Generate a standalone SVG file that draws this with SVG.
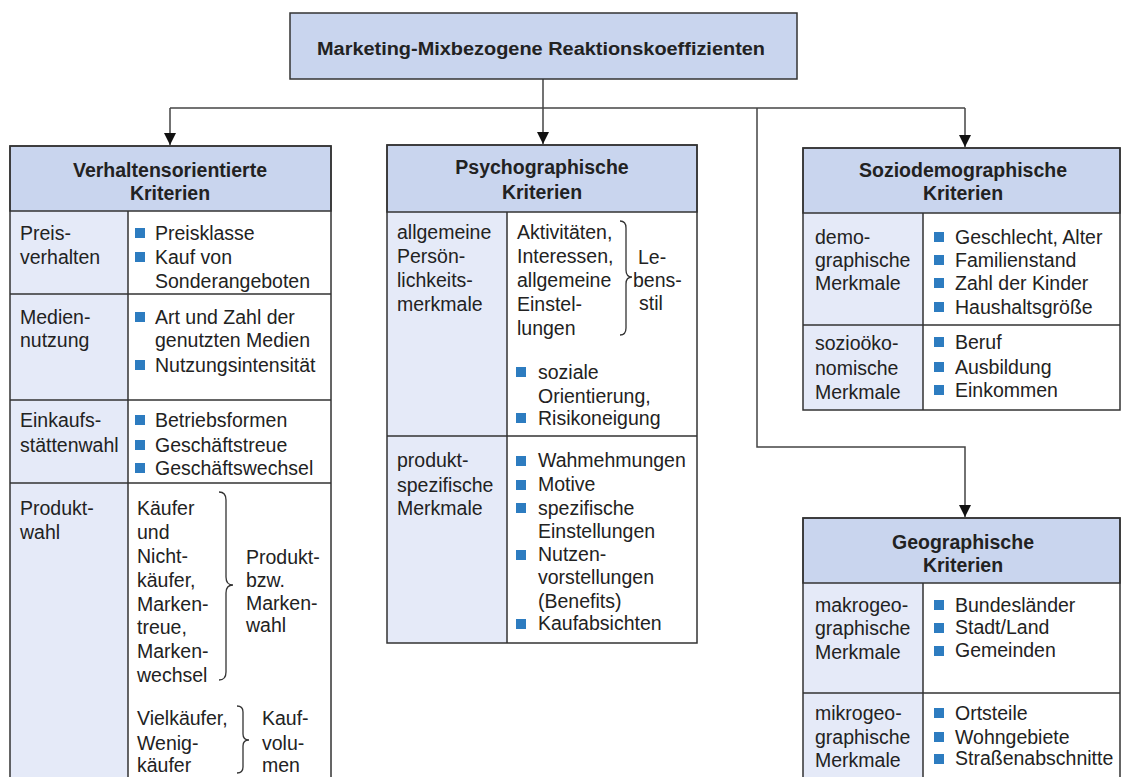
<svg xmlns="http://www.w3.org/2000/svg" width="1122" height="777" viewBox="0 0 1122 777">
<style>
text{font-family:"Liberation Sans",Arial,sans-serif;fill:#222;font-size:19.5px}
.h{font-weight:bold;text-anchor:middle}
.t{font-weight:bold;font-size:17.5px;text-anchor:middle}
.hd{fill:#c9d5ee;stroke:#333;stroke-width:1.5}
.lc{fill:#e5eaf8}
.rc{fill:#fff}
.ln{stroke:#333;stroke-width:1.5;fill:none}
.box{fill:none;stroke:#333;stroke-width:1.5}
.b{fill:#2d7cc0}
.br{fill:none;stroke:#333;stroke-width:1.3}
.c{stroke:#444;stroke-width:1.5;fill:none}
</style>
<defs>
<marker id="ad" markerUnits="userSpaceOnUse" markerWidth="14" markerHeight="14" viewBox="0 0 14 14" refX="7" refY="13" orient="0">
<path d="M1,1 L13,1 L7,13 Z" fill="#111"/>
</marker>
</defs>
<rect width="1122" height="777" fill="#fff"/>

<g id="connectors">
<path class="c" d="M170,108 H965"/>
<path class="c" d="M543,79 V144" marker-end="url(#ad)"/>
<path class="c" d="M170,108 V145" marker-end="url(#ad)"/>
<path class="c" d="M965,108 V147" marker-end="url(#ad)"/>
<path class="c" d="M757,108 V447 H965 V517" marker-end="url(#ad)"/>
</g>

<g id="root">
<rect x="290" y="13" width="507" height="66" class="hd"/>
<text class="t" x="541" y="55" textLength="448" lengthAdjust="spacingAndGlyphs">Marketing-Mixbezogene Reaktionskoeffizienten</text>
</g>

<g id="verhalten">
<rect x="10" y="211" width="118" height="580" class="lc"/>
<rect x="128" y="211" width="203" height="580" class="rc"/>
<rect x="10" y="146" width="321" height="65" class="hd"/>
<rect x="10" y="146" width="321" height="645" class="box"/>
<path class="ln" d="M128,211 V791 M10,294 H331 M10,400 H331 M10,483 H331"/>
<text class="h" x="170" y="177">Verhaltensorientierte</text>
<text class="h" x="170" y="200">Kriterien</text>
<text x="20" y="240">Preis-</text>
<text x="20" y="264">verhalten</text>
<rect class="b" x="135" y="228" width="10" height="10"/>
<rect class="b" x="135" y="252" width="10" height="10"/>
<text x="155" y="240">Preisklasse</text>
<text x="155" y="264">Kauf von</text>
<text x="155" y="288">Sonderangeboten</text>
<text x="20" y="324">Medien-</text>
<text x="20" y="347">nutzung</text>
<rect class="b" x="135" y="312" width="10" height="10"/>
<rect class="b" x="135" y="360" width="10" height="10"/>
<text x="155" y="324">Art und Zahl der</text>
<text x="155" y="347">genutzten Medien</text>
<text x="155" y="372">Nutzungsintensität</text>
<text x="20" y="427">Einkaufs-</text>
<text x="20" y="452">stättenwahl</text>
<rect class="b" x="135" y="415" width="10" height="10"/>
<rect class="b" x="135" y="440" width="10" height="10"/>
<rect class="b" x="135" y="463" width="10" height="10"/>
<text x="155" y="427">Betriebsformen</text>
<text x="155" y="452">Geschäftstreue</text>
<text x="155" y="475">Geschäftswechsel</text>
<text x="20" y="515">Produkt-</text>
<text x="20" y="539">wahl</text>
<text x="137" y="515">Käufer</text>
<text x="137" y="539">und</text>
<text x="137" y="563">Nicht-</text>
<text x="137" y="587">käufer,</text>
<text x="137" y="611">Marken-</text>
<text x="137" y="634">treue,</text>
<text x="137" y="658">Marken-</text>
<text x="137" y="682">wechsel</text>
<path class="br" d="M219,492 Q226,492 226,500 V577 Q226,585 233,585 Q226,585 226,593 V672 Q226,680 219,680"/>
<text x="246" y="564">Produkt-</text>
<text x="246" y="587">bzw.</text>
<text x="246" y="610">Marken-</text>
<text x="246" y="632">wahl</text>
<text x="137" y="725">Vielkäufer,</text>
<text x="137" y="750">Wenig-</text>
<text x="137" y="772">käufer</text>
<path class="br" d="M237,706 Q243,706 243,712 V734 Q243,740 249,740 Q243,740 243,746 V767 Q243,773 237,773"/>
<text x="262" y="725">Kauf-</text>
<text x="262" y="750">volu-</text>
<text x="262" y="772">men</text>
</g>

<g id="psycho">
<rect x="387" y="212" width="120" height="431" class="lc"/>
<rect x="507" y="212" width="190" height="431" class="rc"/>
<rect x="387" y="145" width="310" height="67" class="hd"/>
<rect x="387" y="145" width="310" height="498" class="box"/>
<path class="ln" d="M507,212 V643 M387,436 H697"/>
<text class="h" x="542" y="174">Psychographische</text>
<text class="h" x="542" y="199">Kriterien</text>
<text x="397" y="239">allgemeine</text>
<text x="397" y="263">Persön-</text>
<text x="397" y="287">lichkeits-</text>
<text x="397" y="311">merkmale</text>
<text x="517" y="239">Aktivitäten,</text>
<text x="517" y="263">Interessen,</text>
<text x="517" y="287">allgemeine</text>
<text x="517" y="311">Einstel-</text>
<text x="517" y="335">lungen</text>
<path class="br" d="M620,221 Q626,221 626,228 V270 Q626,277 632,277 Q626,277 626,284 V328 Q626,335 620,335"/>
<text x="638" y="264">Le-</text>
<text x="633" y="287">bens-</text>
<text x="639" y="310">stil</text>
<rect class="b" x="516" y="367" width="10" height="10"/>
<rect class="b" x="516" y="413" width="10" height="10"/>
<text x="538" y="379">soziale</text>
<text x="538" y="403">Orientierung,</text>
<text x="538" y="425">Risikoneigung</text>
<text x="397" y="467">produkt-</text>
<text x="397" y="492">spezifische</text>
<text x="397" y="515">Merkmale</text>
<rect class="b" x="516" y="456" width="10" height="10"/>
<rect class="b" x="516" y="480" width="10" height="10"/>
<rect class="b" x="516" y="503" width="10" height="10"/>
<rect class="b" x="516" y="550" width="10" height="10"/>
<rect class="b" x="516" y="619" width="10" height="10"/>
<text x="538" y="467">Wahmehmungen</text>
<text x="538" y="491">Motive</text>
<text x="538" y="515">spezifische</text>
<text x="538" y="538">Einstellungen</text>
<text x="538" y="561">Nutzen-</text>
<text x="538" y="584">vorstellungen</text>
<text x="538" y="608">(Benefits)</text>
<text x="538" y="630">Kaufabsichten</text>
</g>

<g id="sozio">
<rect x="803" y="213" width="120" height="197" class="lc"/>
<rect x="923" y="213" width="197" height="197" class="rc"/>
<rect x="803" y="148" width="317" height="65" class="hd"/>
<rect x="803" y="148" width="317" height="262" class="box"/>
<path class="ln" d="M923,213 V410 M803,325 H1120"/>
<text class="h" x="963" y="177">Soziodemographische</text>
<text class="h" x="963" y="200">Kriterien</text>
<text x="815" y="244">demo-</text>
<text x="815" y="267">graphische</text>
<text x="815" y="290">Merkmale</text>
<rect class="b" x="934" y="232" width="10" height="10"/>
<rect class="b" x="934" y="255" width="10" height="10"/>
<rect class="b" x="934" y="278" width="10" height="10"/>
<rect class="b" x="934" y="302" width="10" height="10"/>
<text x="955" y="244">Geschlecht, Alter</text>
<text x="955" y="267">Familienstand</text>
<text x="955" y="290">Zahl der Kinder</text>
<text x="955" y="314">Haushaltsgröße</text>
<text x="815" y="350">sozioöko-</text>
<text x="815" y="375">nomische</text>
<text x="815" y="399">Merkmale</text>
<rect class="b" x="934" y="337" width="10" height="10"/>
<rect class="b" x="934" y="362" width="10" height="10"/>
<rect class="b" x="934" y="385" width="10" height="10"/>
<text x="955" y="349">Beruf</text>
<text x="955" y="374">Ausbildung</text>
<text x="955" y="397">Einkommen</text>
</g>

<g id="geo">
<rect x="803" y="583" width="120" height="200" class="lc"/>
<rect x="923" y="583" width="197" height="200" class="rc"/>
<rect x="803" y="518" width="317" height="65" class="hd"/>
<rect x="803" y="518" width="317" height="270" class="box"/>
<path class="ln" d="M923,583 V788 M803,693 H1120"/>
<text class="h" x="963" y="549">Geographische</text>
<text class="h" x="963" y="572">Kriterien</text>
<text x="815" y="612">makrogeo-</text>
<text x="815" y="635">graphische</text>
<text x="815" y="659">Merkmale</text>
<rect class="b" x="934" y="600" width="10" height="10"/>
<rect class="b" x="934" y="623" width="10" height="10"/>
<rect class="b" x="934" y="646" width="10" height="10"/>
<text x="955" y="612">Bundesländer</text>
<text x="955" y="634">Stadt/Land</text>
<text x="955" y="657">Gemeinden</text>
<text x="815" y="720">mikrogeo-</text>
<text x="815" y="744">graphische</text>
<text x="815" y="767">Merkmale</text>
<rect class="b" x="934" y="708" width="10" height="10"/>
<rect class="b" x="934" y="732" width="10" height="10"/>
<rect class="b" x="934" y="754" width="10" height="10"/>
<text x="955" y="720">Ortsteile</text>
<text x="955" y="744">Wohngebiete</text>
<text x="955" y="765">Straßenabschnitte</text>
</g>
</svg>
